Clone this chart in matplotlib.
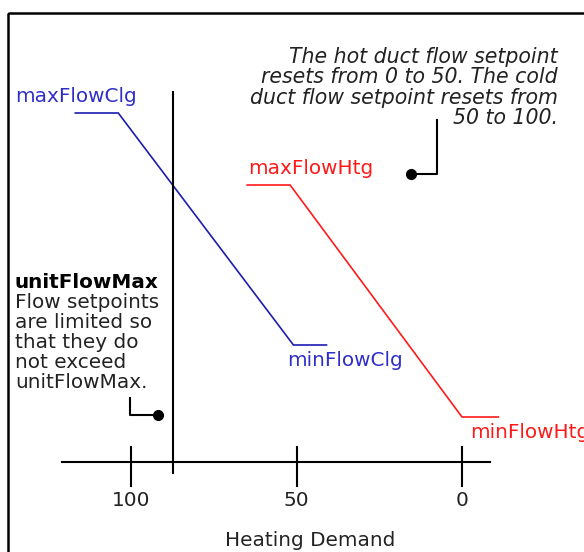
import matplotlib
matplotlib.use("Agg")
import matplotlib.pyplot as plt
from matplotlib.patches import Rectangle

# ---- data (heating demand on x, flow setpoint on y) ----
clg_demand = [117, 104, 51, 41]
clg_flow = [349, 349, 117, 117]
htg_demand = [65, 52, 0, -11]
htg_flow = [277, 277, 45, 45]
unit_flow_max_demand = 87.4
tick_values = [100, 50, 0]
tick_labels = ["100", "50", "0"]

W, H = 584, 552
fig = plt.figure(figsize=(W / 100, H / 100), dpi=100)
fig.patch.set_facecolor("white")
ax = fig.add_axes([0, 0, 1, 1])
ax.axis("off")
# pixel x = 462 - 3.305*d ; pixel y = 462 - flow
ax.set_xlim(462 / 3.305, (462 - W) / 3.305)
ax.set_ylim(462 - H, 462)

def P(x, y):
    return (x / W, 1 - y / H)

TXT = "#222222"
BLUE = "#1c1cb0"
BLUE_T = "#2f2fc8"
RED = "#ff1a1a"
FS = 14.4
FSI = 14.8

# border box (extends past right/bottom)
fig.patches.append(Rectangle(P(8, 13), (W + 20) / W, -(H + 20) / H,
                             transform=fig.transFigure, fill=False,
                             edgecolor="black", linewidth=1.8, clip_on=False))

# series
ax.plot(clg_demand, clg_flow, color=BLUE, lw=1.2, solid_joinstyle="miter")
ax.plot(htg_demand, htg_flow, color=RED, lw=1.2, solid_joinstyle="miter")

# x axis line
xt = ax.get_xaxis_transform()
ax.plot([(462 - 62) / 3.305, (462 - 490) / 3.305], [0, 0], color="black", lw=1.5)
for v, lab in zip(tick_values, tick_labels):
    ax.plot([v, v], [462 - 447, 462 - 486], color="black", lw=1.5)
    ax.text(v, 1 - 500 / H, lab, transform=xt, ha="center", va="center",
            fontsize=FS, color=TXT)
fig.text(*P(310, 540), "Heating Demand", ha="center", va="center",
         fontsize=FS, color=TXT)

# unitFlowMax vertical line
ax.plot([unit_flow_max_demand, unit_flow_max_demand], [462 - 92, 462 - 473],
        color="black", lw=1.5)

# series labels
fig.text(*P(15, 97), "maxFlowClg", color=BLUE_T, fontsize=FS, va="center", ha="left")
fig.text(*P(287, 361), "minFlowClg", color=BLUE_T, fontsize=FS, va="center", ha="left")
fig.text(*P(248, 168), "maxFlowHtg", color=RED, fontsize=FS, va="center", ha="left")
fig.text(*P(470, 433), "minFlowHtg", color=RED, fontsize=FS, va="center", ha="left")

# italic note
note = ["The hot duct flow setpoint", "resets from 0 to 50. The cold",
        "duct flow setpoint resets from", "50 to 100."]
for i, line in enumerate(note):
    fig.text(*P(558, 57 + 20.3 * i), line, color=TXT, fontsize=FSI,
             style="italic", ha="right", va="center")

# unitFlowMax note
fig.text(*P(15, 283), "unitFlowMax", color="black", fontsize=FS,
         weight="bold", ha="left", va="center")
side = ["Flow setpoints", "are limited so", "that they do", "not exceed", "unitFlowMax."]
for i, line in enumerate(side):
    fig.text(*P(15, 303 + 20 * i), line, color=TXT, fontsize=FS,
             ha="left", va="center")

# leaders
def leader(pts, dot):
    xs = [p[0] / W for p in pts]
    ys = [1 - p[1] / H for p in pts]
    fig.add_artist(plt.Line2D(xs, ys, transform=fig.transFigure, color="black", lw=1.5))
    fig.add_artist(plt.Line2D([dot[0] / W], [1 - dot[1] / H], transform=fig.transFigure,
                              marker="o", markersize=7, color="black"))

leader([(437, 120), (437, 174), (411, 174)], (411, 174))
leader([(130, 398), (130, 415), (158, 415)], (158, 415))

fig.savefig("out.png", dpi=100, facecolor="white")
